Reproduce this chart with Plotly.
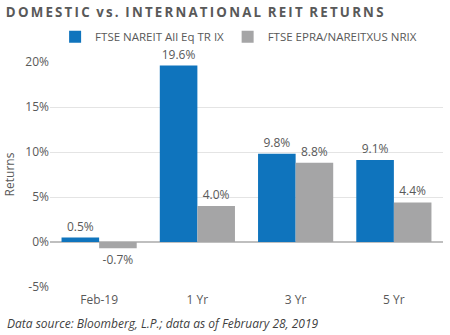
import plotly.graph_objects as go

categories = ["Feb-19", "1 Yr", "3 Yr", "5 Yr"]
domestic = [0.5, 19.6, 9.8, 9.1]
international = [-0.7, 4.0, 8.8, 4.4]
series_names = ["FTSE NAREIT All Eq TR IX", "FTSE EPRA/NAREITXUS NRIX"]
y_ticks = [-5, 0, 5, 10, 15, 20]
y_tick_labels = ["-5%", "0%", "5%", "10%", "15%", "20%"]
title_words = ["DOMESTIC", "vs.", "INTERNATIONAL", "REIT", "RETURNS"]

BLUE = "#0F74BD"
GRAY = "#A5A5A6"
TEXT = "#595959"
FONT = "Open Sans"

# spaced-out heading: thin spaces between letters, en spaces between words
title_text = "\u2002".join("\u2009".join(w) for w in title_words)

fig = go.Figure()
for i, (name, vals, color) in enumerate([(series_names[0], domestic, BLUE),
                                         (series_names[1], international, GRAY)]):
    fig.add_trace(go.Bar(
        x=categories, y=vals, name=name, marker_color=color,
        marker_line_width=0,
        text=[f"{v:.1f}%" for v in vals], textposition="outside",
        textfont=dict(size=12, color=TEXT, family=FONT),
        cliponaxis=False, showlegend=True,
        legend="legend" if i == 0 else "legend2",
    ))

legend_common = dict(orientation="h", yanchor="middle", y=1.112,
                     font=dict(size=11.5, color=TEXT), itemwidth=30,
                     bgcolor="rgba(0,0,0,0)", xanchor="left", visible=True)

fig.update_layout(
    width=450, height=335,
    margin=dict(l=50, r=7, t=62, b=48),
    paper_bgcolor="white", plot_bgcolor="white",
    barmode="group", bargap=0.235, bargroupgap=0,
    font=dict(family=FONT, color=TEXT, size=12),
    showlegend=True,
    title=dict(text=title_text,
               x=0.013, xanchor="left", y=0.962, yanchor="middle",
               font=dict(size=13.3, color=TEXT, family=FONT, weight="bold")),
    legend=dict(x=0.013, **legend_common),
    legend2=dict(x=0.452, **legend_common),
    xaxis=dict(showgrid=False, ticks="", tickfont=dict(size=12, color=TEXT),
               ticklabelstandoff=4),
    yaxis=dict(range=[-5, 20], tickvals=y_ticks, ticktext=y_tick_labels,
               showgrid=True, gridcolor="#E4E4E4", gridwidth=1,
               zeroline=True, zerolinecolor="#BFBFBF", zerolinewidth=1.5,
               tickfont=dict(size=12, color=TEXT),
               title=dict(text="Returns", font=dict(size=12, color=TEXT), standoff=8)),
    annotations=[dict(text="<i>Data source: Bloomberg, L.P.; data as of February 28, 2019</i>",
                      xref="paper", yref="paper", x=-0.115, y=-0.16,
                      xanchor="left", yanchor="middle", showarrow=False,
                      font=dict(size=12, color="#3F3F3F", family=FONT))],
)

fig.write_html("out.html")
